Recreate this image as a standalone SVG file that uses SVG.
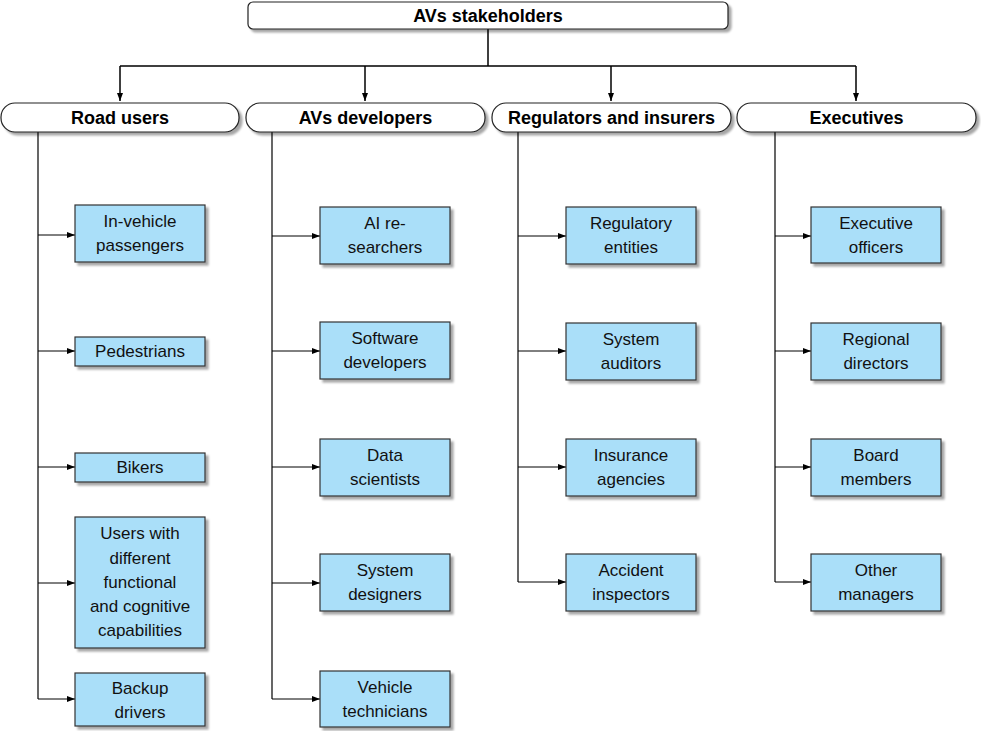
<svg xmlns="http://www.w3.org/2000/svg" width="981" height="731" viewBox="0 0 981 731">
<defs>
<marker id="ah" markerWidth="8" markerHeight="6" refX="8" refY="3" orient="auto" markerUnits="userSpaceOnUse">
<path d="M0,0 L8,3 L0,6 Z" fill="#000"/>
</marker>
<filter id="sh" x="-10%" y="-10%" width="130%" height="140%">
<feGaussianBlur in="SourceAlpha" stdDeviation="1"/>
<feOffset dx="3" dy="3" result="b"/>
<feComponentTransfer><feFuncA type="linear" slope="0.35"/></feComponentTransfer>
<feMerge><feMergeNode/><feMergeNode in="SourceGraphic"/></feMerge>
</filter>
</defs>
<style>
.top{fill:#fff;stroke:#222;stroke-width:1.2;filter:url(#sh)}
.leaf{fill:#aadff9;stroke:#333;stroke-width:1.2;filter:url(#sh)}
.tb{font-family:"Liberation Sans",Arial,sans-serif;font-weight:bold;font-size:18px;text-anchor:middle;fill:#000}
.tl{font-family:"Liberation Sans",Arial,sans-serif;font-size:17px;text-anchor:middle;fill:#111}
.c{fill:none;stroke:#000;stroke-width:1.2}
.ca{fill:none;stroke:#000;stroke-width:1;marker-end:url(#ah)}
.cd{fill:none;stroke:#000;stroke-width:1.5;marker-end:url(#ah)}
</style>
<g id="connectors">
<path class="c" d="M488,29 V66 M120,66 H856" style="stroke-width:1.5"/>
<path class="cd" d="M120,66 V101"/>
<path class="cd" d="M365,66 V101"/>
<path class="cd" d="M611,66 V101"/>
<path class="cd" d="M856,66 V101"/>
<path class="c" d="M38,132 V699"/>
<path class="c" d="M272,132 V699"/>
<path class="c" d="M518,132 V582"/>
<path class="c" d="M775,132 V582"/>
<path class="ca" d="M38,235 H75"/>
<path class="ca" d="M38,351 H75"/>
<path class="ca" d="M38,467 H75"/>
<path class="ca" d="M38,583 H75"/>
<path class="ca" d="M38,699 H75"/>
<path class="ca" d="M272,236 H320"/>
<path class="ca" d="M272,351 H320"/>
<path class="ca" d="M272,467 H320"/>
<path class="ca" d="M272,583 H320"/>
<path class="ca" d="M272,699 H320"/>
<path class="ca" d="M518,236 H566"/>
<path class="ca" d="M518,351 H566"/>
<path class="ca" d="M518,467 H566"/>
<path class="ca" d="M518,582 H566"/>
<path class="ca" d="M775,236 H811"/>
<path class="ca" d="M775,351 H811"/>
<path class="ca" d="M775,467 H811"/>
<path class="ca" d="M775,582 H811"/>
</g>
<g id="root"><rect class="top" x="248" y="2" width="480" height="27" rx="5"/><text class="tb" x="488" y="22">AVs stakeholders</text></g>
<g id="road-users"><rect class="top" x="1" y="103" width="238" height="29" rx="14"/><text class="tb" x="120" y="124">Road users</text></g>
<g id="avs-developers"><rect class="top" x="246" y="103" width="239" height="29" rx="14"/><text class="tb" x="365.5" y="124">AVs developers</text></g>
<g id="regulators"><rect class="top" x="492" y="103" width="239" height="29" rx="14"/><text class="tb" x="611.5" y="124">Regulators and insurers</text></g>
<g id="executives"><rect class="top" x="737" y="103" width="239" height="29" rx="14"/><text class="tb" x="856.5" y="124">Executives</text></g>

<g id="in-vehicle"><rect class="leaf" x="75" y="205" width="130" height="57"/><text class="tl" x="140" y="227">In-vehicle</text><text class="tl" x="140" y="251">passengers</text></g>
<g id="pedestrians"><rect class="leaf" x="75" y="337" width="130" height="29"/><text class="tl" x="140" y="357">Pedestrians</text></g>
<g id="bikers"><rect class="leaf" x="75" y="453" width="130" height="29"/><text class="tl" x="140" y="473">Bikers</text></g>
<g id="users-with"><rect class="leaf" x="75" y="517" width="130" height="131"/><text class="tl" x="140" y="539">Users with</text><text class="tl" x="140" y="564">different</text><text class="tl" x="140" y="588">functional</text><text class="tl" x="140" y="612">and cognitive</text><text class="tl" x="140" y="636">capabilities</text></g>
<g id="backup"><rect class="leaf" x="75" y="673" width="130" height="53"/><text class="tl" x="140" y="694">Backup</text><text class="tl" x="140" y="718">drivers</text></g>

<g id="ai-researchers"><rect class="leaf" x="320" y="207" width="130" height="57"/><text class="tl" x="385" y="229">AI re-</text><text class="tl" x="385" y="253">searchers</text></g>
<g id="software"><rect class="leaf" x="320" y="322" width="130" height="57"/><text class="tl" x="385" y="344">Software</text><text class="tl" x="385" y="368">developers</text></g>
<g id="data"><rect class="leaf" x="320" y="439" width="130" height="57"/><text class="tl" x="385" y="461">Data</text><text class="tl" x="385" y="485">scientists</text></g>
<g id="system-designers"><rect class="leaf" x="320" y="554" width="130" height="57"/><text class="tl" x="385" y="576">System</text><text class="tl" x="385" y="600">designers</text></g>
<g id="vehicle-tech"><rect class="leaf" x="320" y="671" width="130" height="56"/><text class="tl" x="385" y="693">Vehicle</text><text class="tl" x="385" y="717">technicians</text></g>

<g id="regulatory"><rect class="leaf" x="566" y="207" width="130" height="57"/><text class="tl" x="631" y="229">Regulatory</text><text class="tl" x="631" y="253">entities</text></g>
<g id="auditors"><rect class="leaf" x="566" y="323" width="130" height="57"/><text class="tl" x="631" y="345">System</text><text class="tl" x="631" y="369">auditors</text></g>
<g id="insurance"><rect class="leaf" x="566" y="439" width="130" height="57"/><text class="tl" x="631" y="461">Insurance</text><text class="tl" x="631" y="485">agencies</text></g>
<g id="accident"><rect class="leaf" x="566" y="554" width="130" height="57"/><text class="tl" x="631" y="576">Accident</text><text class="tl" x="631" y="600">inspectors</text></g>

<g id="exec-officers"><rect class="leaf" x="811" y="207" width="130" height="56"/><text class="tl" x="876" y="229">Executive</text><text class="tl" x="876" y="253">officers</text></g>
<g id="regional"><rect class="leaf" x="811" y="323" width="130" height="57"/><text class="tl" x="876" y="345">Regional</text><text class="tl" x="876" y="369">directors</text></g>
<g id="board"><rect class="leaf" x="811" y="439" width="130" height="57"/><text class="tl" x="876" y="461">Board</text><text class="tl" x="876" y="485">members</text></g>
<g id="other"><rect class="leaf" x="811" y="554" width="130" height="57"/><text class="tl" x="876" y="576">Other</text><text class="tl" x="876" y="600">managers</text></g>
</svg>
